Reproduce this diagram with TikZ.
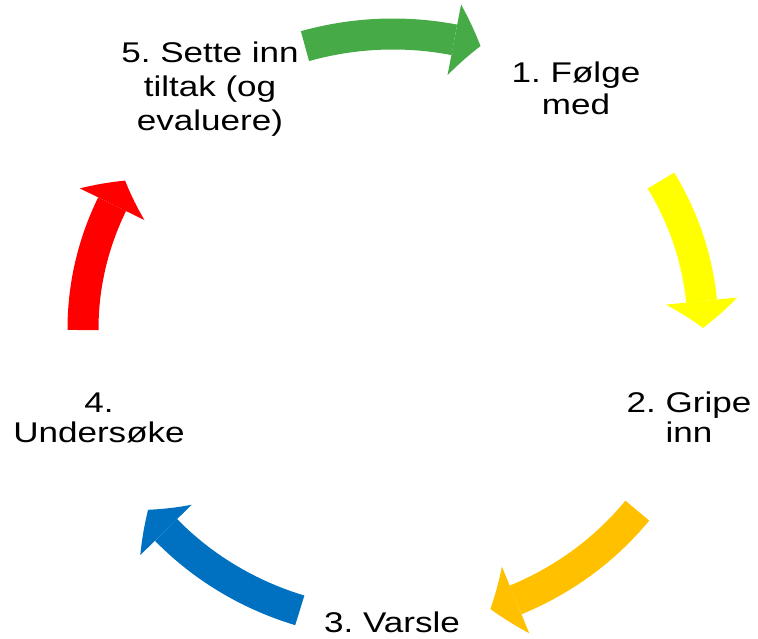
\documentclass[tikz,border=0pt]{standalone}
\usepackage{fontspec}
\setmainfont[FakeStretch=1.23]{Liberation Sans}
\usetikzlibrary{arrows.meta,bending,calc}
\definecolor{cgreen}{RGB}{70,170,70}
\definecolor{cyellow}{RGB}{255,255,0}
\definecolor{corange}{RGB}{255,192,0}
\definecolor{cblue}{RGB}{0,112,192}
\definecolor{cred}{RGB}{255,0,0}
\frenchspacing
\begin{document}
\begin{tikzpicture}[x=1pt,y=1pt,
  cyclearrow/.style={line width=31pt, line cap=butt,
    -{Triangle[width=72pt,length=27pt,line width=0pt,bend]}},
  lbl/.style={inner sep=0pt, anchor=base, font=\fontsize{28.5}{33}\selectfont}]
\useasboundingbox (0,0) rectangle (758,639);
\coordinate (c) at (393,310);
% labels
\node[lbl, font=\fontsize{28.5}{34}\selectfont] (s5) at (210,576)
  {\begin{tabular}[t]{@{}c@{}}5. Sette inn\\tiltak (og\\evaluere)\end{tabular}};
\node[lbl, font=\fontsize{28.5}{32}\selectfont] (s1) at (576,556)
  {\begin{tabular}[t]{@{}c@{}}1. Følge\\med\end{tabular}};
\node[lbl, font=\fontsize{28.5}{30}\selectfont] (s2) at (689,226)
  {\begin{tabular}[t]{@{}c@{}}2. Gripe\\inn\end{tabular}};
\node[lbl] (s3) at (392,6) {3. Varsle};
\node[lbl, font=\fontsize{28.5}{29.5}\selectfont] (s4) at (99,226)
  {\begin{tabular}[t]{@{}c@{}}4.\\Undersøke\end{tabular}};
% arrow start points on the ellipse
\coordinate (a5) at ($(c)+(106.5:310pt and 295pt)$);
\coordinate (a1) at ($(c)+(30.2:310pt and 295pt)$);
\coordinate (a2) at ($(c)+(-38.0:310pt and 295pt)$);
\coordinate (a3) at ($(c)+(-107.5:310pt and 295pt)$);
\coordinate (a4) at ($(c)+(180.2:310pt and 295pt)$);
\draw[cyclearrow, cgreen] (a5) arc[start angle=106.5, end angle=73.6, x radius=310pt, y radius=295pt];
\draw[cyclearrow, cyellow] (a1) arc[start angle=30.2, end angle=0.2, x radius=310pt, y radius=295pt];
\draw[cyclearrow, corange] (a2) arc[start angle=-38.0, end angle=-71.7, x radius=310pt, y radius=295pt];
\draw[cyclearrow, cblue] (a3) arc[start angle=-107.5, end angle=-142.2, x radius=310pt, y radius=295pt];
\draw[cyclearrow, cred] (a4) arc[start angle=180.2, end angle=149.8, x radius=310pt, y radius=295pt];
\end{tikzpicture}
\end{document}
